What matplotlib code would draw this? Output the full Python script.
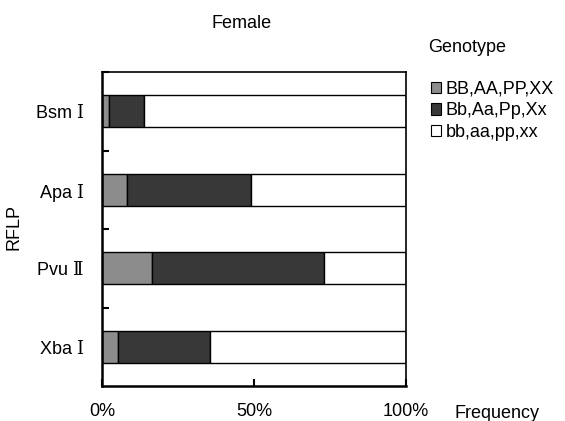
import matplotlib

matplotlib.use("Agg")
import matplotlib.pyplot as plt
from matplotlib.patches import Patch

plt.rcParams["font.family"] = ["Liberation Sans", "DejaVu Sans"]
plt.rcParams["mathtext.fontset"] = "custom"
plt.rcParams["mathtext.rm"] = "DejaVu Serif"

CATEGORIES = ["Bsm $\\mathrm{I}$", "Apa $\\mathrm{I}$", "Pvu $\\mathrm{Ⅱ}$", "Xba $\\mathrm{I}$"]
HOMO_UPPER = [2.3, 8.1, 16.3, 5.4]      # BB,AA,PP,XX (%)
HETERO = [11.5, 40.9, 56.7, 30.1]      # Bb,Aa,Pp,Xx (%)
HOMO_LOWER = [86.2, 51.0, 27.0, 64.5]  # bb,aa,pp,xx (%)
SERIES_LABELS = ["BB,AA,PP,XX", "Bb,Aa,Pp,Xx", "bb,aa,pp,xx"]
X_TICKS = [0, 50, 100]
X_TICK_LABELS = ["0%", "50%", "100%"]

BAR_H = 0.41
COLORS = ["#8c8c8c", "#383838", "#ffffff"]
FS = 13


def main():
    fig = plt.figure(figsize=(5.65, 4.21), dpi=100)
    ax = fig.add_axes([0.1805, 0.083, 0.538, 0.746])

    pos = [i + 0.5 for i in range(len(CATEGORIES))]
    left = [0] * len(CATEGORIES)
    for vals, col in zip([HOMO_UPPER, HETERO, HOMO_LOWER], COLORS):
        ax.barh(pos, vals, height=BAR_H, left=left, color=col,
                edgecolor="black", linewidth=1.0)
        left = [a + b for a, b in zip(left, vals)]

    ax.set_xlim(0, 100)
    ax.set_ylim(len(CATEGORIES), 0)
    ax.set_yticks(pos)
    ax.set_yticklabels(CATEGORIES, fontsize=FS)
    ax.set_yticks(range(len(CATEGORIES)), minor=True)
    ax.tick_params(axis="y", which="major", length=0, pad=13)
    ax.tick_params(axis="y", which="minor", direction="in", length=5, width=1.5)
    ax.set_xticks(X_TICKS)
    ax.set_xticklabels(X_TICK_LABELS, fontsize=FS)
    ax.tick_params(axis="x", direction="in", length=5, width=1.5, pad=12)
    for s in ax.spines.values():
        s.set_linewidth(1.2)
    ax.spines["left"].set_linewidth(1.8)
    ax.spines["bottom"].set_linewidth(1.8)

    fig.text(0.427, 0.943, "Female", ha="center", va="center", fontsize=FS)
    fig.text(0.025, 0.46, "RFLP", ha="center", va="center", rotation=90, fontsize=FS)
    fig.text(0.805, 0.019, "Frequency", ha="left", va="center", fontsize=FS)
    fig.text(0.758, 0.888, "Genotype", ha="left", va="center", fontsize=FS)

    handles = [Patch(facecolor=c, edgecolor="black", linewidth=0.8) for c in COLORS]
    fig.legend(handles, SERIES_LABELS, loc="upper left",
               bbox_to_anchor=(0.762, 0.808), frameon=False, fontsize=FS,
               handlelength=0.6, handleheight=0.6, handletextpad=0.25,
               labelspacing=0.25, borderaxespad=0, borderpad=0)

    fig.savefig("out.png", dpi=100)
    plt.close(fig)


if __name__ == "__main__":
    main()
